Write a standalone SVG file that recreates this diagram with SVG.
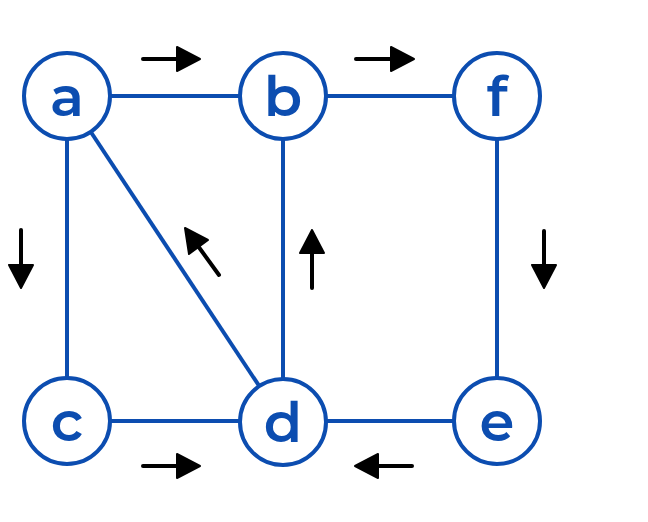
<svg xmlns="http://www.w3.org/2000/svg" width="648" height="522" viewBox="0 0 648 522">
  <style>
    .edge { stroke: #0c4db0; stroke-width: 4; fill: none; }
    .node circle { fill: #ffffff; stroke: #0c4db0; stroke-width: 4; }
    .node text { font-family: "Montserrat", "Noto Sans", "Liberation Sans", sans-serif; font-weight: 600; font-size: 56px; fill: #0c4db0; text-anchor: middle; }
    .dir { stroke: #000000; stroke-width: 4; stroke-linecap: round; fill: none; }
    .head { fill: #000000; stroke: #000000; stroke-width: 2; stroke-linejoin: round; }
  </style>
  <rect width="648" height="522" fill="#ffffff"/>
  <g id="connectors">
    <line class="edge" x1="67" y1="96" x2="283" y2="96"/>
    <line class="edge" x1="283" y1="96" x2="497" y2="96"/>
    <line class="edge" x1="67" y1="96" x2="67" y2="421"/>
    <line class="edge" x1="67" y1="96" x2="283" y2="422"/>
    <line class="edge" x1="283" y1="96" x2="283" y2="422"/>
    <line class="edge" x1="497" y1="96" x2="497" y2="421"/>
    <line class="edge" x1="67" y1="421" x2="283" y2="421"/>
    <line class="edge" x1="283" y1="421" x2="497" y2="421"/>
  </g>
  <g id="direction-arrows">
    <!-- a -> b -->
    <line class="dir" x1="143" y1="59" x2="180" y2="59"/>
    <polygon class="head" points="200,59 177,47 177,71"/>
    <!-- b -> f -->
    <line class="dir" x1="356" y1="59" x2="394" y2="59"/>
    <polygon class="head" points="414,59 391,47 391,71"/>
    <!-- a -> c (down, left) -->
    <line class="dir" x1="21" y1="230" x2="21" y2="268"/>
    <polygon class="head" points="21,288 9,265 33,265"/>
    <!-- f -> e (down, right) -->
    <line class="dir" x1="544" y1="231" x2="544" y2="268"/>
    <polygon class="head" points="544,288 532,265 556,265"/>
    <!-- d -> b (up) -->
    <line class="dir" x1="312" y1="288" x2="312" y2="250"/>
    <polygon class="head" points="312,230 300,253 324,253"/>
    <!-- d -> a (diagonal) -->
    <line class="dir" x1="219" y1="275" x2="198" y2="246"/>
    <polygon class="head" points="185,228 189,254 208,240"/>
    <!-- c -> d -->
    <line class="dir" x1="143" y1="466" x2="180" y2="466"/>
    <polygon class="head" points="200,466 177,454 177,478"/>
    <!-- e -> d -->
    <line class="dir" x1="412" y1="466" x2="375" y2="466"/>
    <polygon class="head" points="355,466 378,454 378,478"/>
  </g>
  <g id="node-a" class="node"><circle cx="67" cy="96" r="43"/><text x="67" y="116">a</text></g>
  <g id="node-b" class="node"><circle cx="283" cy="96" r="43"/><text x="283" y="116">b</text></g>
  <g id="node-f" class="node"><circle cx="497" cy="96" r="43"/><text x="497" y="116">f</text></g>
  <g id="node-c" class="node"><circle cx="67" cy="421" r="43"/><text x="67" y="441">c</text></g>
  <g id="node-d" class="node"><circle cx="283" cy="422" r="43"/><text x="283" y="442">d</text></g>
  <g id="node-e" class="node"><circle cx="497" cy="421" r="43"/><text x="497" y="441">e</text></g>
</svg>
